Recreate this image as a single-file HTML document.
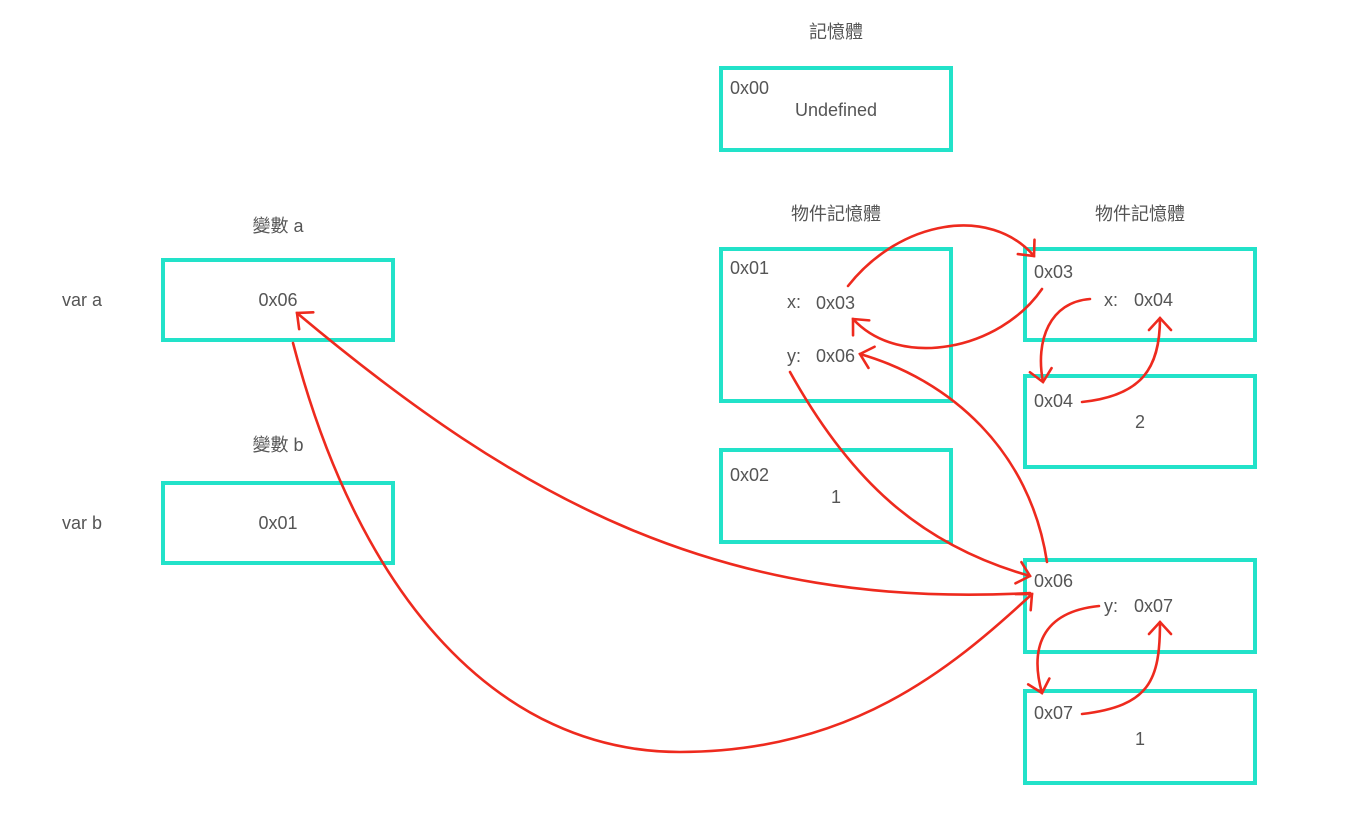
<!DOCTYPE html>
<html><head><meta charset="utf-8"><style>
html,body{margin:0;padding:0;background:#fff;}
svg{display:block;}
text{font-family:"Liberation Sans","Noto Sans CJK TC",sans-serif;font-size:18px;fill:#555;}
.b{fill:none;stroke:#22e2c9;stroke-width:4;}
.a{fill:none;stroke:#ee2a1e;stroke-width:2.6;stroke-linecap:round;}
</style></head><body>
<svg width="1347" height="816" viewBox="0 0 1347 816" xmlns="http://www.w3.org/2000/svg">
<defs>
<marker id="m" markerWidth="30" markerHeight="30" refX="14" refY="15" orient="auto" markerUnits="userSpaceOnUse">
<path d="M2,4 L14,15 L2,26" fill="none" stroke="#ee2a1e" stroke-width="2.6" stroke-linecap="round"/>
</marker>
</defs>
<rect class="b" x="721" y="68" width="230" height="82"/>
<rect class="b" x="163" y="260" width="230" height="80"/>
<rect class="b" x="163" y="483" width="230" height="80"/>
<rect class="b" x="721" y="249" width="230" height="152"/>
<rect class="b" x="721" y="450" width="230" height="92"/>
<rect class="b" x="1025" y="249" width="230" height="91"/>
<rect class="b" x="1025" y="376" width="230" height="91"/>
<rect class="b" x="1025" y="560" width="230" height="92"/>
<rect class="b" x="1025" y="691" width="230" height="92"/>

<text x="836" y="38" text-anchor="middle">記憶體</text>
<text x="730" y="94">0x00</text>
<text x="836" y="116" text-anchor="middle">Undefined</text>
<text x="278" y="232" text-anchor="middle">變數 a</text>
<text x="62" y="306">var a</text>
<text x="278" y="306" text-anchor="middle">0x06</text>
<text x="278" y="451" text-anchor="middle">變數 b</text>
<text x="62" y="529">var b</text>
<text x="278" y="529" text-anchor="middle">0x01</text>
<text x="836" y="220" text-anchor="middle">物件記憶體</text>
<text x="1140" y="220" text-anchor="middle">物件記憶體</text>
<text x="730" y="274">0x01</text>
<text x="787" y="308">x:</text><text x="816" y="309">0x03</text>
<text x="787" y="362">y:</text><text x="816" y="362">0x06</text>
<text x="730" y="481">0x02</text>
<text x="836" y="503" text-anchor="middle">1</text>
<text x="1034" y="278">0x03</text>
<text x="1104" y="306">x:</text><text x="1134" y="306">0x04</text>
<text x="1034" y="407">0x04</text>
<text x="1140" y="428" text-anchor="middle">2</text>
<text x="1034" y="587">0x06</text>
<text x="1104" y="612">y:</text><text x="1134" y="612">0x07</text>
<text x="1034" y="719">0x07</text>
<text x="1140" y="745" text-anchor="middle">1</text>

<path class="a" marker-end="url(#m)" d="M848,286 C900,220 990,205 1034,256"/>
<path class="a" marker-end="url(#m)" d="M1042,289 C1000,350 900,370 853,319"/>
<path class="a" marker-end="url(#m)" d="M1090,299 C1050,302 1035,340 1043,382"/>
<path class="a" marker-end="url(#m)" d="M1082,402 C1140,396 1160,370 1160,318"/>
<path class="a" marker-end="url(#m)" d="M790,372 C850,480 920,545 1030,576"/>
<path class="a" marker-end="url(#m)" d="M1047,562 C1030,450 950,380 860,354"/>
<path class="a" marker-end="url(#m)" d="M1030,593 C720,610 520,500 297,313"/>
<path class="a" marker-end="url(#m)" d="M293,343 C360,600 500,752 680,752 C850,752 950,670 1032,594"/>
<path class="a" marker-end="url(#m)" d="M1099,606 C1040,612 1030,650 1042,693"/>
<path class="a" marker-end="url(#m)" d="M1082,714 C1150,706 1160,680 1160,622"/>
</svg>
</body></html>
